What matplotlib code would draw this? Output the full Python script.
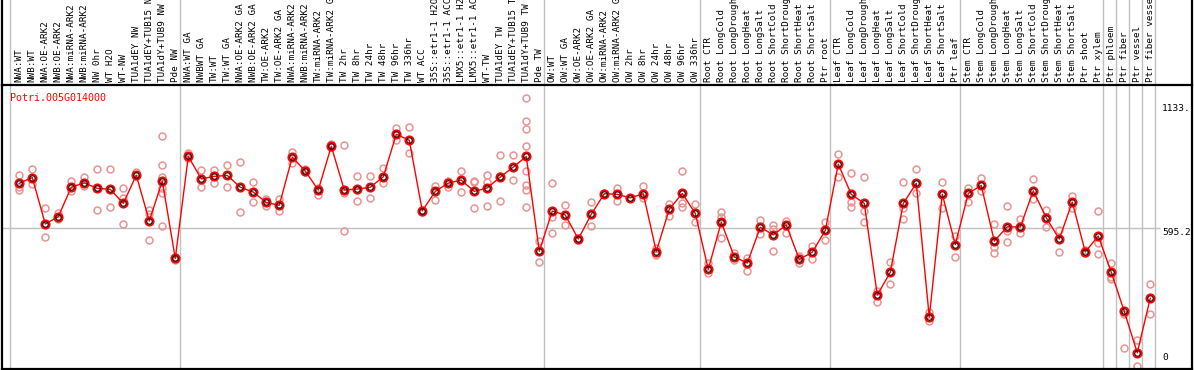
import numpy as np
import matplotlib
matplotlib.use("Agg")
import matplotlib.pyplot as plt

gene = "Potri.005G014000"

labels = [
    # NW
    "NWA:WT", "NWB:WT", "NWA:OE-ARK2", "NWB:OE-ARK2", "NWA:miRNA-ARK2", "NWB:miRNA-ARK2",
    "NW 0hr", "WT H2O", "WT-NW", "TUA1dEY NW", "TUA1dEY+TUB15 NW", "TUA1dY+TUB9 NW", "Pde NW",
    # TW
    "NWA:WT GA", "NWBWT GA", "TW:WT", "TW:WT GA", "NWA:OE-ARK2 GA", "NWB:OE-ARK2 GA",
    "TW:OE-ARK2", "TW:OE-ARK2 GA", "NWA:miRNA-ARK2 GA", "NWB:miRNA-ARK2 GA", "TW:miRNA-ARK2",
    "TW:miRNA-ARK2 GA", "TW 2hr", "TW 8hr", "TW 24hr", "TW 48hr", "TW 96hr", "TW 336hr",
    "WT ACC", "35S::etr1-1 H2O", "35S::etr1-1 ACC", "LMX5::etr1-1 H2O", "LMX5::etr1-1 ACC",
    "WT-TW", "TUA1dEY TW", "TUA1dEY+TUB15 TW", "TUA1dY+TUB9 TW", "Pde TW",
    # OW
    "OW:WT", "OW:WT GA", "OW:OE-ARK2", "OW:OE-ARK2 GA", "OW:miRNA-ARK2", "OW:miRNA-ARK2 GA",
    "OW 2hr", "OW 8hr", "OW 24hr", "OW 48hr", "OW 96hr", "OW 336hr",
    # root
    "Root CTR", "Root LongCold", "Root LongDrought", "Root LongHeat", "Root LongSalt",
    "Root ShortCold", "Root ShortDrought", "Root ShortHeat", "Root ShortSalt", "Ptr root",
    # leaf
    "Leaf CTR", "Leaf LongCold", "Leaf LongDrought", "Leaf LongHeat", "Leaf LongSalt",
    "Leaf ShortCold", "Leaf ShortDrought", "Leaf ShortHeat", "Leaf ShortSalt", "Ptr leaf",
    # stem
    "Stem CTR", "Stem LongCold", "Stem LongDrought", "Stem LongHeat", "Stem LongSalt",
    "Stem ShortCold", "Stem ShortDrought", "Stem ShortHeat", "Stem ShortSalt", "Ptr shoot",
    "Ptr xylem",
    # tissues
    "Ptr phloem", "Ptr fiber", "Ptr vessel", "Ptr fiber vessel",
]

group_sizes = [13, 28, 12, 10, 10, 11, 1, 1, 1, 1]

means = [
    790, 815, 614, 646, 773, 792, 768, 764, 703, 825, 627, 800, 465,
    906, 809, 820, 824, 773, 752, 707, 695, 903, 843, 761, 950, 761, 765, 773,
    818, 1002, 976, 671, 755, 791, 804, 755, 770, 817, 860, 906, 496,
    670, 653, 549, 656, 745, 742, 727, 745, 495, 678, 746, 660,
    418, 622, 472, 445, 600, 567, 610, 461, 492, 586,
    873, 742, 703, 307, 405, 703, 790, 211, 743, 525,
    746, 781, 540, 602, 601, 757, 641, 549, 709, 493, 562,
    405, 236, 57, 293,
]

reps = [
    [825, 773, 761], [851, 785], [683, 556, 614], [660, 634], [800, 757], [818, 778],
    [851, 674, 768], [851, 686, 764], [768, 725, 616], [840, 825], [674, 658, 543],
    [994, 868, 818, 768, 746, 605], [458, 470],
    [920, 900], [848, 773], [846, 790], [868, 776], [882, 666], [794, 709], [722, 692],
    [724, 669], [927, 879], [850, 838], [739, 770], [960, 945], [955, 746, 583],
    [823, 713, 760], [823, 725], [854, 790], [1027, 977], [1032, 920], [675, 665],
    [778, 718], [800, 776], [845, 751], [801, 683, 795], [825, 797, 692],
    [912, 713, 820], [912, 804], [1159, 1059, 1023, 951, 843, 782, 761, 686], [540, 449],
    [791, 646, 574], [695, 609], [552, 545], [709, 605], [750, 742], [768, 715],
    [727, 727], [778, 725], [509, 480], [699, 649], [843, 706, 689], [699, 621],
    [444, 403], [666, 646, 552], [487, 458], [468, 412], [631, 571], [610, 496, 594],
    [628, 575], [476, 444], [520, 461], [624, 543],
    [917, 816], [833, 710, 689], [818, 670, 621], [326, 275], [449, 353],
    [794, 682, 636], [851, 746], [232, 196], [794, 682], [564, 470],
    [768, 707], [815, 755], [616, 516, 487], [692, 535, 585], [634, 577], [809, 722],
    [674, 600], [588, 492], [736, 685], [487, 500], [670, 531, 484],
    [444, 386, 375], [225, 77], [112, 0], [353, 224],
]

ref_value = 595.2
axis_labels = ["1133.", "595.2", "0"]
axis_values = [1133, 595.2, 0]

x = np.arange(len(labels))

fig = plt.figure(figsize=(11.94, 3.70), dpi=100)
W, H = 1194, 370
ax = fig.add_axes([2 / W, 1 / H, 1190 / W, 284 / H])
top = fig.add_axes([2 / W, 285 / H, 1190 / W, 85 / H], sharex=ax)

xlim = (-1.33, 90.21)
ax.set_xlim(*xlim)
ax.set_ylim(-13, 1215)
top.set_ylim(0, 1)

mono = "DejaVu Sans Mono"
grey = "#c0c0c0"

# separators between sample groups
ends = np.cumsum(group_sizes) - 1
seps = [-0.72] + list(ends + 0.4)
for a in (ax, top):
    for s in seps:
        a.axvline(s, color=grey, lw=1, zorder=0)

ax.hlines(ref_value, xlim[0], x[-1] + 0.75, color=grey, lw=1, zorder=0)

# replicates
for i, r in enumerate(reps):
    ax.plot([x[i]] * len(r), r, "o", ms=5, mfc="none", mec="#e89494", mew=1.1,
            ls="none", zorder=2)

# means
ax.plot(x, means, "-", color="#ff0000", lw=1.0, zorder=3)
ax.plot(x, means, "o", ms=6.0, mfc="none", mec="#ff0000", mew=1.3, ls="none", zorder=4)
ax.plot(x, means, "o", ms=4.0, mfc="none", mec="#300000", mew=0.9, ls="none", zorder=5)

ax.text(0.0065, 0.955, gene, transform=ax.transAxes, color="#ff0000",
        family=mono, fontsize=7.2, va="center", ha="left")

for lab, v in zip(axis_labels, axis_values):
    va = "bottom" if v == 0 else "top"
    off = 4 if v == 0 else 0
    ax.annotate(lab, (x[-1] + 0.9, v), xytext=(0, off), textcoords="offset pixels",
                family=mono, fontsize=6.8, va=va, ha="left", color="black")

for i, lab in enumerate(labels):
    top.text(x[i], 0.03, lab, rotation=90, ha="center", va="bottom",
             family=mono, fontsize=6.7, color="black", clip_on=False)

for a in (ax, top):
    a.set_xticks([])
    a.set_yticks([])
    for sp in a.spines.values():
        sp.set_color("black")
        sp.set_linewidth(1.6)
top.spines["top"].set_visible(False)
ax.spines["top"].set_visible(False)
ax.patch.set_alpha(0)
top.patch.set_alpha(0)

fig.savefig("out.png", dpi=100)
